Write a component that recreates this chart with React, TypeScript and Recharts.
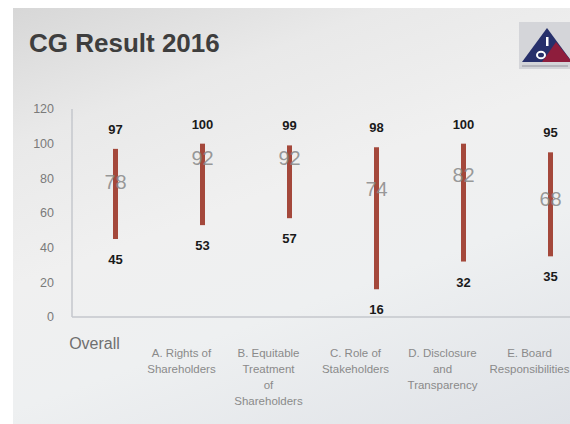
import React from 'react';
import { ComposedChart, Bar, Line, XAxis, YAxis, LabelList } from 'recharts';

const categories = [
  'Overall',
  'A. Rights of\nShareholders',
  'B. Equitable\nTreatment\nof\nShareholders',
  'C. Role of\nStakeholders',
  'D. Disclosure\nand\nTransparency',
  'E. Board\nResponsibilities',
];
const highValues = [97, 100, 99, 98, 100, 95];
const meanValues = [78, 92, 92, 74, 82, 68];
const lowValues = [45, 53, 57, 16, 32, 35];
const yTicks = [0, 20, 40, 60, 80, 100, 120];

const data = categories.map((c, i) => ({
  name: c,
  range: [lowValues[i], highValues[i]],
  high: highValues[i],
  low: lowValues[i],
  mean: meanValues[i],
}));

const FONT = '"Liberation Sans", Arial, sans-serif';

const CategoryTick = (props: any) => {
  const { x, y, payload } = props;
  const value = String(payload.value);
  const lines = value.split('\n');
  if (value === categories[0]) {
    return (
      <text x={x - 21} y={y + 32} textAnchor="middle" fontSize={16} fill="#6f6f6f" fontFamily={FONT}>
        {value}
      </text>
    );
  }
  return (
    <text x={x - 21} y={y} textAnchor="middle" fontSize={11.5} fill="#8a8a8a" fontFamily={FONT}>
      {lines.map((l, i) => (
        <tspan key={i} x={x - 21} y={y + 40 + i * 16}>
          {l}
        </tspan>
      ))}
    </text>
  );
};

const HighLabel = (props: any) => {
  const { x, y, width, height, value } = props;
  const top = Math.min(y, y + height);
  return (
    <text x={x + width / 2} y={top - 15} textAnchor="middle" fontSize={13} fontWeight="bold" fill="#1a1a1a" fontFamily={FONT}>
      {value}
    </text>
  );
};

const LowLabel = (props: any) => {
  const { x, y, width, height, value } = props;
  const bottom = Math.max(y, y + height);
  return (
    <text x={x + width / 2} y={bottom + 25} textAnchor="middle" fontSize={13} fontWeight="bold" fill="#1a1a1a" fontFamily={FONT}>
      {value}
    </text>
  );
};

const MeanLabel = (props: any) => {
  const { x, y, value } = props;
  return (
    <text x={x} y={y + 7} textAnchor="middle" fontSize={20} fill="#888888" fillOpacity={0.85} fontFamily={FONT}>
      {value}
    </text>
  );
};

export default function App() {
  return (
    <div style={{ position: 'absolute', left: 0, top: 0, width: 570, height: 424, overflow: 'hidden', background: '#ffffff' }}>
      <div
        style={{
          position: 'absolute',
          left: 13,
          top: 8,
          right: 0,
          bottom: 0,
          background: 'linear-gradient(160deg, #d7d7d7 0%, #e9e9e9 22%, #f0f0f0 45%, #eef0f1 65%, #dfe2e7 100%)',
        }}
      />
      <svg width={570} height={424} style={{ position: 'absolute', left: 0, top: 0 }}>
        <text x={29} y={51.5} fontSize={26} fontWeight="bold" fill="#3e3e3e" fontFamily={FONT}>
          CG Result 2016
        </text>
        <rect x={519} y={22} width={52} height={47} fill="#d4d5d9" />
        <polygon points="547,28 522,62 572,62" fill="#27306b" />
        <polygon points="556,42 572,62 542,62" fill="#8e1d3c" />
        <rect x={546} y={37} width={2.5} height={9} fill="#ffffff" />
        <ellipse cx={541} cy={55} rx={4} ry={3.3} stroke="#ffffff" strokeWidth={2} fill="none" />
        <rect x={522} y={65.5} width={46} height={1} fill="#556" fillOpacity={0.5} />
      </svg>
      <div style={{ position: 'absolute', left: 0, top: 0 }}>
        <ComposedChart width={594} height={424} data={data} margin={{ top: 109, right: 0, left: 0, bottom: 7 }}>
          <XAxis
            dataKey="name"
            height={100}
            interval={0}
            tickLine={false}
            tickSize={0}
            tickMargin={0}
            axisLine={{ stroke: '#c4c7cc', strokeWidth: 1.5 }}
            tick={<CategoryTick />}
          />
          <YAxis
            width={72}
            domain={[0, 120]}
            ticks={yTicks}
            tickLine={false}
            tickSize={0}
            tickMargin={18}
            axisLine={{ stroke: '#c4c7cc', strokeWidth: 1.5 }}
            tick={{ fill: '#7a7a7a', fontSize: 12.5, fontFamily: FONT }}
          />
          <Bar dataKey="range" barSize={5} fill="#a4483b" isAnimationActive={false}>
            <LabelList dataKey="high" content={<HighLabel />} />
            <LabelList dataKey="low" content={<LowLabel />} />
          </Bar>
          <Line dataKey="mean" stroke="none" dot={false} activeDot={false} isAnimationActive={false}>
            <LabelList dataKey="mean" content={<MeanLabel />} />
          </Line>
        </ComposedChart>
      </div>
    </div>
  );
}
